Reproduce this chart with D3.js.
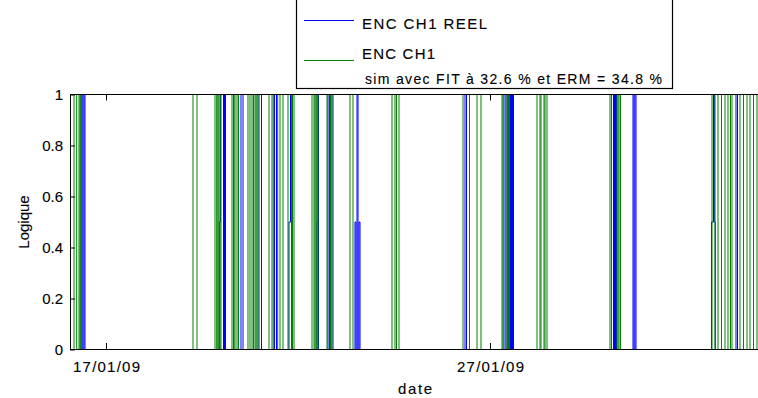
<!DOCTYPE html>
<html>
<head>
<meta charset="utf-8">
<script src="https://cdn.jsdelivr.net/npm/d3@7"></script>
<style>
  html, body { margin: 0; padding: 0; background: #fff; overflow: hidden; }
  svg { display: block; }
  text { font-family: "Liberation Sans", Arial, sans-serif; fill: #000; stroke: #000; stroke-width: 0.12px; }
</style>
</head>
<body>
<svg id="chart" width="758" height="398"></svg>
<script>
// ---- data (days after 17/01/09 00:00, step values) ----
const xTickDays = [0, 10];
const xTickLabels = ["17/01/09", "27/01/09"];
const yTicks = [0, 0.2, 0.4, 0.6, 0.8, 1];
const xDomainDays = [-0.9375, 17.03125];

// ENC CH1 REEL (blue) – value changes at given day offsets
const realDays = [-0.625, -0.599, -0.5729, -0.5469,
  2.9505, 2.9818, 3.0599, 3.0859, 3.112,
  3.5156, 3.5677,
  3.9844, 4.0495,
  4.388, 4.4401,
  4.7656, 4.8047, 4.8307,
  5.4948, 5.5208, 5.5339,
  5.7813, 5.8203, 5.8594, 5.9115,
  6.4844, 6.5104, 6.5365, 6.5625, 6.5885, 6.6146,
  9.349, 9.388,
  10.3646, 10.4167, 10.5339, 10.5599, 10.5859, 10.612,
  13.2161, 13.2422, 13.2682, 13.2943,
  13.724, 13.75, 13.776, 13.8021,
  15.7682, 15.8203, 15.8411, 15.8672,
  16.4063, 16.4453];
const realValues = [1, 0, 1, 0,
  0.5, 1, 0, 1, 0,
  1, 0,
  1, 0,
  1, 0,
  0.5, 1, 0,
  0.5, 1, 0,
  1, 0, 1, 0,
  0.5, 0, 1, 0, 0.5, 0,
  1, 0,
  1, 0, 1, 0, 1, 0,
  1, 0, 1, 0,
  1, 0, 1, 0,
  0.5, 1, 0.5, 0,
  1, 0];

// ENC CH1 (green, simulation)
const simDays = [-0.8333, -0.763, -0.7031, -0.6771, -0.6589, -0.6432,
  2.2656, 2.3698,
  2.8385, 2.8828, 2.9115, 2.9375, 2.9688, 2.9948,
  3.2813, 3.3203, 3.3333, 3.3594,
  3.4115, 3.4505,
  3.6979, 3.75, 3.8021, 3.8411,
  3.8802, 3.9063, 3.9323, 3.9583,
  4.2448, 4.3229, 4.3568, 4.4714, 4.5313, 4.6094,
  4.7396, 4.8307, 4.8568, 4.8958,
  5.3646, 5.4167, 5.4427, 5.4688, 5.4896, 5.5208,
  5.7552, 5.8333, 5.8464, 5.8854,
  6.3542, 6.4323,
  7.4479, 7.526, 7.5651, 7.6302,
  9.2969, 9.4661, 9.6615, 9.7656,
  10.3125, 10.3385, 10.4167, 10.4557, 10.4818, 10.5078,
  11.224, 11.3021, 11.3281, 11.4063, 11.4323, 11.4844,
  13.125, 13.1641, 13.3073, 13.3333, 13.3594, 13.3984,
  15.7813, 15.8594, 15.9375, 16.0286, 16.1198, 16.1979,
  16.263, 16.3021, 16.5104, 16.6016, 16.6927, 16.7708,
  16.862, 16.9531];
const simValues = [1, 0, 1, 0, 1, 0,
  1, 0,
  1, 0, 1, 0, 1, 0,
  1, 0, 1, 0,
  1, 0,
  1, 0, 1, 0,
  1, 0, 1, 0,
  1, 0, 1, 0, 1, 0,
  1, 0, 1, 0,
  1, 0, 1, 0, 1, 0,
  1, 0, 1, 0,
  1, 0,
  1, 0, 1, 0,
  1, 0, 1, 0,
  1, 0, 1, 0, 1, 0,
  1, 0, 1, 0, 1, 0,
  1, 0, 1, 0, 1, 0,
  1, 0, 1, 0, 1, 0,
  1, 0, 1, 0, 1, 0,
  1, 0];

const legendLabels = ["ENC CH1 REEL", "ENC CH1", "sim avec FIT à 32.6 % et ERM = 34.8 %"];
const yLabel = "Logique";
const xLabel = "date";

// ---- drawing ----
(function () {
const DAY = 864e5;
const base = new Date(2009, 0, 17);
const toDate = d => new Date(+base + d * DAY);

const svg = d3.select("#chart");
const mLeft = 70, mRight = 760, mTop = 94.5, mBottom = 349.5;

const x = d3.scaleTime().domain(xDomainDays.map(toDate)).range([mLeft, mRight]);
const y = d3.scaleLinear().domain([0, 1]).range([mBottom, mTop]);

function series(days, values) {
  const pts = [{t: toDate(xDomainDays[0]), v: 0}];
  days.forEach((d, i) => pts.push({t: toDate(d), v: values[i]}));
  pts.push({t: toDate(xDomainDays[1]), v: 0});
  return pts;
}
const line = d3.line().x(d => x(d.t)).y(d => y(d.v)).curve(d3.curveStepAfter);

svg.append("path").datum(series(realDays, realValues))
  .attr("d", line).attr("fill", "none").attr("stroke", "#0000ff").attr("stroke-width", 1);
svg.append("path").datum(series(simDays, simValues))
  .attr("d", line).attr("fill", "none").attr("stroke", "#008000").attr("stroke-width", 1);

// axes
const xAxis = d3.axisBottom(x).tickValues(xTickDays.map(toDate)).tickFormat((d, i) => xTickLabels[i])
  .tickSizeInner(-6).tickSizeOuter(0).tickPadding(12);
const gx = svg.append("g").attr("transform", `translate(0,${mBottom - 0.5})`).call(xAxis);
gx.select(".domain").attr("stroke", "#000");
gx.selectAll(".tick line").attr("stroke", "#000");
gx.selectAll(".tick text").attr("font-size", 15).attr("font-family", null)
  .attr("textLength", 67).attr("lengthAdjust", "spacing");

const yAxis = d3.axisLeft(y).tickValues(yTicks).tickFormat(d => String(d))
  .tickSizeInner(-5).tickSizeOuter(0).tickPadding(7);
const gy = svg.append("g").attr("transform", `translate(${mLeft},0)`).call(yAxis);
gy.select(".domain").attr("stroke", "#000");
gy.selectAll(".tick line").attr("stroke", "#000");
gy.selectAll(".tick text").attr("font-size", 15).attr("font-family", null);

// top border + top ticks
svg.append("line").attr("x1", mLeft).attr("x2", mRight).attr("y1", mTop).attr("y2", mTop).attr("stroke", "#000");
svg.selectAll(".ttick").data(xTickDays).enter().append("line")
  .attr("x1", d => x(toDate(d)) + 0.5).attr("x2", d => x(toDate(d)) + 0.5)
  .attr("y1", mTop).attr("y2", mTop + 6).attr("stroke", "#000");

// axis labels
svg.append("text").attr("transform", "translate(29,222) rotate(-90)")
  .attr("text-anchor", "middle").attr("font-size", 15).text(yLabel);
svg.append("text").attr("x", 415).attr("y", 394).attr("text-anchor", "middle")
  .attr("font-size", 15).attr("textLength", 34).text(xLabel);

// legend
const lg = svg.append("g");
lg.append("rect").attr("x", 296.5).attr("y", -10).attr("width", 376).attr("height", 98.5)
  .attr("fill", "#fff").attr("stroke", "#000").attr("stroke-width", 1.2);
const legendColors = ["#0000ff", "#008000"];
const legendLineY = [20.5, 60.5];
lg.selectAll(".ll").data(legendColors).enter().append("line")
  .attr("x1", 304).attr("x2", 354).attr("y1", (d, i) => legendLineY[i]).attr("y2", (d, i) => legendLineY[i])
  .attr("stroke", d => d).attr("stroke-width", 1.2);
const legendTextX = [362, 362, 365];
const legendTextY = [28.5, 58.5, 83.5];
const legendTextW = [125, 73, 297];
lg.selectAll(".lt").data(legendLabels).enter().append("text")
  .attr("x", (d, i) => legendTextX[i]).attr("y", (d, i) => legendTextY[i])
  .attr("font-size", (d, i) => i === 2 ? 14 : 15)
  .attr("textLength", (d, i) => legendTextW[i]).attr("lengthAdjust", "spacing")
  .text(d => d);
})();
</script>
</body>
</html>
